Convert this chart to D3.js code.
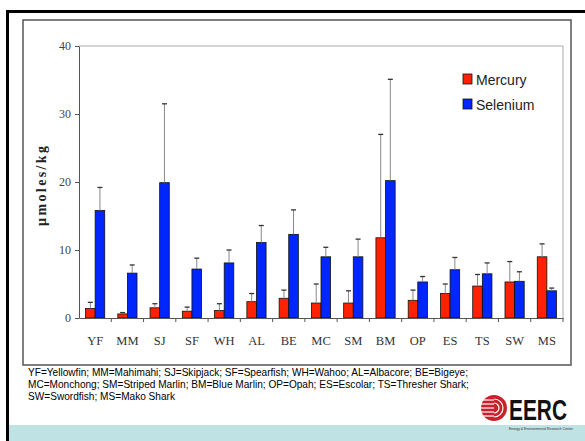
<!DOCTYPE html>
<html><head><meta charset="utf-8">
<script src="https://cdn.jsdelivr.net/npm/d3@7/dist/d3.min.js"></script>
<style>
html,body{margin:0;padding:0;background:#fff;}
svg{display:block;}
</style></head>
<body>
<svg id="c" width="585" height="441"></svg>
<script>
const categories = ["YF","MM","SJ","SF","WH","AL","BE","MC","SM","BM","OP","ES","TS","SW","MS"];
const mercury   = [1.4,0.6,1.5,1.0,1.1,2.4,2.9,2.2,2.2,11.8,2.6,3.6,4.7,5.3,9.0];
const mercurySD = [0.9,0.2,0.6,0.6,1.0,1.2,1.2,2.8,1.8,15.2,1.5,1.4,1.7,3.0,1.9];
const selenium   = [15.8,6.6,19.9,7.2,8.1,11.1,12.3,9.0,9.0,20.2,5.3,7.1,6.5,5.4,4.0];
const seleniumSD = [3.4,1.2,11.6,1.6,1.9,2.5,3.6,1.4,2.6,14.9,0.8,1.8,1.6,1.4,0.4];
const seriesNames = ["Mercury","Selenium"];
const seriesColors = ["#ff2200","#0026ff"];
const yTicks = [0,10,20,30,40];
const yTitle = "\u00b5moles/kg";
const captionLines = [
  "YF=Yellowfin; MM=Mahimahi; SJ=Skipjack; SF=Spearfish; WH=Wahoo; AL=Albacore; BE=Bigeye;",
  "MC=Monchong; SM=Striped Marlin; BM=Blue Marlin; OP=Opah;  ES=Escolar; TS=Thresher Shark;",
  "SW=Swordfish; MS=Mako Shark"
];

const svg = d3.select("#c");

// slide frame
svg.append("rect").attr("x",9).attr("y",425).attr("width",576).attr("height",16).attr("fill","#bfe2e4");
svg.append("line").attr("x1",7.5).attr("x2",7.5).attr("y1",10).attr("y2",441).attr("stroke","#000").attr("stroke-width",3);
svg.append("line").attr("x1",6).attr("x2",585).attr("y1",11.5).attr("y2",11.5).attr("stroke","#000").attr("stroke-width",3);

// chart box
svg.append("rect").attr("x",23).attr("y",20).attr("width",548).attr("height",345)
  .attr("fill","#fff").attr("stroke","#555").attr("stroke-width",1.5);

const L=79, R=563, T=46, B=318;
const x = d3.scaleBand().domain(categories).range([L,R]).paddingInner(0).paddingOuter(0);
const x1 = d3.scaleBand().domain(seriesNames).range([0,x.bandwidth()]).paddingInner(0).paddingOuter(0.68);
const y = d3.scaleLinear().domain([0,40]).range([B,T]);

// plot area border top/right
svg.append("path").attr("d",`M${L},${T}H${R}V${B}`).attr("fill","none").attr("stroke","#aaa").attr("stroke-width",1);

const data = categories.map((c,i)=>({c, vals:[{s:"Mercury",v:mercury[i],sd:mercurySD[i]},{s:"Selenium",v:selenium[i],sd:seleniumSD[i]}]}));

const g = svg.append("g");
const grp = g.selectAll("g.grp").data(data).join("g").attr("transform",d=>`translate(${x(d.c)},0)`);
grp.selectAll("rect").data(d=>d.vals).join("rect")
  .attr("x",d=>x1(d.s)).attr("width",x1.bandwidth())
  .attr("y",d=>y(d.v)).attr("height",d=>y(0)-y(d.v))
  .attr("fill",(d,i)=>seriesColors[i]).attr("stroke","#111").attr("stroke-width",0.8);
grp.selectAll("line.eb").data(d=>d.vals).join("line").attr("class","eb")
  .attr("x1",d=>x1(d.s)+x1.bandwidth()/2).attr("x2",d=>x1(d.s)+x1.bandwidth()/2)
  .attr("y1",d=>y(d.v)).attr("y2",d=>y(d.v+d.sd)).attr("stroke","#888").attr("stroke-width",1);
grp.selectAll("line.cap").data(d=>d.vals).join("line").attr("class","cap")
  .attr("x1",d=>x1(d.s)+x1.bandwidth()/2-2.5).attr("x2",d=>x1(d.s)+x1.bandwidth()/2+2.5)
  .attr("y1",d=>y(d.v+d.sd)).attr("y2",d=>y(d.v+d.sd)).attr("stroke","#333").attr("stroke-width",1.3);

// y axis
const ya = svg.append("g").attr("transform",`translate(${L},0)`)
  .call(d3.axisLeft(y).tickValues(yTicks).tickSize(4).tickPadding(4).tickSizeOuter(0));
ya.select(".domain").attr("stroke","#555");
ya.selectAll(".tick line").attr("stroke","#555");
ya.selectAll("text").attr("font-family","Liberation Serif, Times New Roman, serif").attr("font-size",12).attr("fill","#444");

// x axis
const xa = svg.append("g").attr("transform",`translate(0,${B})`)
  .call(d3.axisBottom(x).tickSize(0).tickPadding(18).tickSizeOuter(0));
xa.select(".domain").attr("stroke","#555");
xa.selectAll("text").attr("font-family","Liberation Serif, Times New Roman, serif").attr("font-size",12.5).attr("fill","#333");
svg.append("g").selectAll("line").data(categories.slice(1).concat(["__end"])).join("line")
  .attr("x1",d=>d==="__end"?R:x(d)).attr("x2",d=>d==="__end"?R:x(d))
  .attr("y1",B).attr("y2",B+4).attr("stroke","#555");

// y title
svg.append("text").attr("transform","translate(46,186) rotate(-90)")
  .attr("text-anchor","middle").attr("font-family","Liberation Serif, Times New Roman, serif")
  .attr("font-weight","bold").attr("font-size",14).attr("fill","#222")
  .attr("textLength",80).attr("lengthAdjust","spacing").text(yTitle);

// legend
const lg = svg.append("g").selectAll("g").data(seriesNames).join("g")
  .attr("transform",(d,i)=>`translate(463,${74+i*25})`);
lg.append("rect").attr("width",9).attr("height",10).attr("fill",(d,i)=>seriesColors[i]).attr("stroke","#111").attr("stroke-width",0.8);
lg.append("text").attr("x",13).attr("y",10.5).attr("font-family","Liberation Sans, Arial, sans-serif")
  .attr("font-size",14).attr("fill","#222").text(d=>d);

// caption (condensed to fit the reference width)
const cap = svg.append("g").selectAll("text").data(captionLines).join("text")
  .attr("x",28).attr("y",(d,i)=>376+i*12.2)
  .attr("font-family","Liberation Sans, Arial, sans-serif").attr("font-size",11).attr("fill","#000")
  .text(d=>d);
const n0 = cap.nodes()[0].getComputedTextLength();
const k = 440/n0;
cap.each(function(){ const w=this.getComputedTextLength(); d3.select(this).attr("textLength",w*k).attr("lengthAdjust","spacingAndGlyphs"); });

// logo
const logo = svg.append("g");
logo.append("circle").attr("cx",494).attr("cy",408).attr("r",13).attr("fill","#cc1f2b");
[-8,-4,0,4,8].forEach(dy=>{
  logo.append("line").attr("x1",481).attr("x2",494).attr("y1",408+dy).attr("y2",408+dy).attr("stroke","#fff").attr("stroke-width",1.2);
});
logo.append("path").attr("d","M494,399 A9,9 0 0 1 494,417").attr("fill","none").attr("stroke","#fff").attr("stroke-width",1.2);
logo.append("path").attr("d","M494,403 A5,5 0 0 1 494,413").attr("fill","none").attr("stroke","#fff").attr("stroke-width",1.2);
logo.append("text").attr("transform","translate(509,420) scale(1,1.25)")
  .attr("font-family","Liberation Sans Narrow, Liberation Sans, Arial, sans-serif")
  .attr("font-weight","bold").attr("font-size",24).attr("fill","#111")
  .attr("textLength",58).attr("lengthAdjust","spacingAndGlyphs").text("EERC");
logo.append("text").attr("x",509).attr("y",430).attr("font-family","Liberation Sans, Arial, sans-serif")
  .attr("font-size",3.5).attr("fill","#333").attr("textLength",64).attr("lengthAdjust","spacingAndGlyphs")
  .text("Energy & Environmental Research Center");
</script>
</body></html>
